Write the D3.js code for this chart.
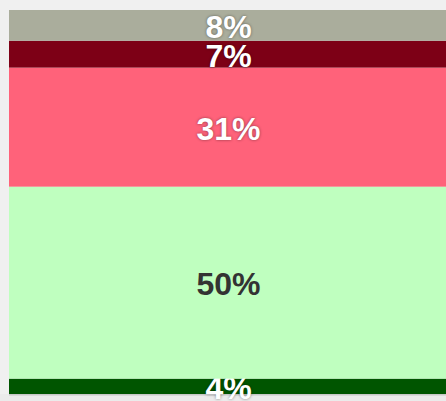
<!DOCTYPE html>
<html>
<head>
<meta charset="utf-8">
<script src="https://cdn.jsdelivr.net/npm/d3@7"></script>
<style>
  body { margin: 0; background: #f0f0f0; overflow: hidden; }
  svg { display: block; }
  .lbl { font-family: "Liberation Sans", Arial, sans-serif; font-weight: bold; font-size: 32px; }
</style>
</head>
<body>
<script>
// segments, bottom to top
const categories = ["d", "c", "b", "a", "e"];
const values = [4, 50, 31, 7, 8];
const colors = ["#005500", "#bfffbf", "#ff627a", "#7d0016", "#aaad9c"];
const textColors = ["#fff", "#333", "#fff", "#fff", "#fff"];

const w = 446, h = 401;
const barLeft = 9, barTop = 10, barBottom = 394;

const svg = d3.select("body").append("svg")
  .attr("width", w)
  .attr("height", h);

// thin shadow line under the bar
svg.append("rect")
  .attr("x", 0).attr("y", barBottom).attr("width", w).attr("height", h - barBottom)
  .attr("fill", "#ebebeb");
svg.append("rect")
  .attr("x", barLeft).attr("y", barBottom).attr("width", w - barLeft).attr("height", 1.5)
  .attr("fill", "#c8c8c8");

const row = {};
categories.forEach((c, i) => row[c] = values[i]);
const stacked = d3.stack().keys(categories)([row]);

const y = d3.scaleLinear().domain([0, d3.sum(values)]).range([barBottom, barTop]);
const x = d3.scaleBand().domain(["all"]).range([barLeft, w + 2]);

const seg = svg.selectAll("g.seg")
  .data(stacked)
  .enter()
  .append("g")
  .attr("class", "seg");

seg.append("rect")
  .attr("x", x("all"))
  .attr("width", x.bandwidth())
  .attr("y", d => y(d[0][1]))
  .attr("height", d => y(d[0][0]) - y(d[0][1]))
  .attr("fill", (d, i) => colors[i]);

seg.append("text")
  .attr("class", "lbl")
  .attr("x", (barLeft + w) / 2 + 1)
  .attr("y", d => (y(d[0][0]) + y(d[0][1])) / 2 + 1.5)
  .attr("text-anchor", "middle")
  .attr("dominant-baseline", "central")
  .attr("fill", (d, i) => textColors[i])
  .style("text-shadow", (d, i) => textColors[i] === "#fff" ? "0 0 3px rgba(0,0,0,0.45)" : null)
  .text((d, i) => values[i] + "%");
</script>
</body>
</html>
